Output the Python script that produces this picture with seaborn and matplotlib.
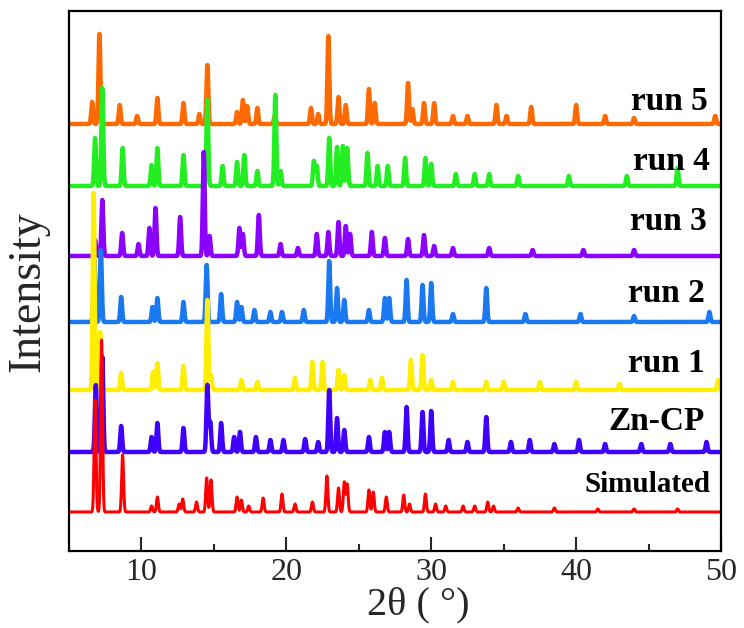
import numpy as np
import pandas as pd
import matplotlib
matplotlib.use("Agg")
import matplotlib.pyplot as plt
import seaborn as sns

# ---------------- data (peak positions in 2theta, heights in arbitrary units) -------------
samples = ["run 5", "run 4", "run 3", "run 2", "run 1", "Zn-CP", "Simulated"]

sim_pos = [6.8, 7.25, 8.7, 10.7, 11.1, 12.6, 12.85, 13.8, 14.5, 14.8, 16.6, 16.9, 17.4, 18.4,
           19.7, 20.6, 21.8, 22.8, 23.6, 24.0, 24.2, 25.7, 26.0, 26.9, 28.1, 28.5, 29.6, 30.3,
           31.0, 32.2, 33.0, 33.9, 34.3, 36.0, 38.5, 41.5, 44.0, 47.0]
sim_h = [112, 172, 57, 6, 15, 8, 13, 10, 34, 32, 15, 12, 6, 14, 18, 8, 10, 36, 24, 30, 28,
         22, 20, 15, 17, 8, 18, 8, 6, 6, 6, 10, 6, 4, 4, 3, 3, 3]

zn_pos = [6.85, 7.3, 8.6, 10.7, 11.1, 12.9, 14.55, 14.75, 15.5, 16.4, 16.8, 17.9, 18.9, 19.8,
          21.3, 22.2, 22.96, 23.5, 24.0, 25.7, 26.8, 27.1, 28.3, 29.4, 30.0, 31.2, 32.5, 33.8,
          35.5, 36.8, 38.5, 40.2, 42.0, 44.5, 46.5, 49.0]
zn_h = [67, 95, 26, 15, 29, 24, 67, 30, 29, 15, 20, 15, 12, 12, 13, 10, 62, 34, 22, 15, 20,
        20, 45, 40, 41, 12, 10, 35, 10, 12, 8, 12, 8, 8, 8, 10]

r1_pos = [6.7, 7.15, 8.6, 10.8, 11.1, 12.9, 14.55, 14.8, 16.9, 18.0, 20.6, 21.8, 22.5, 23.6,
          24.0, 25.8, 26.6, 28.6, 29.4, 30.0, 31.5, 33.8, 35.0, 37.5, 40.0, 43.0, 49.8]
r1_h = [197, 58, 17, 18, 27, 24, 90, 15, 10, 8, 12, 28, 28, 20, 15, 10, 12, 30, 35, 10, 8,
        8, 8, 8, 8, 6, 10]

r2_pos = [6.75, 7.2, 8.6, 10.76, 11.1, 12.9, 14.5, 15.5, 16.6, 16.9, 17.8, 18.9, 19.7, 21.2,
          22.96, 23.5, 24.0, 25.7, 26.8, 27.1, 28.3, 29.4, 30.0, 31.5, 33.8, 36.5, 40.3, 44.0, 49.2]
r2_h = [62, 72, 25, 15, 24, 20, 57, 28, 20, 15, 12, 10, 10, 12, 61, 34, 22, 12, 24, 24, 42,
        37, 39, 8, 34, 8, 8, 6, 10]

r3_pos = [6.8, 7.3, 8.67, 9.8, 10.55, 10.97, 12.67, 14.3, 14.7, 16.76, 17.0, 18.1, 19.6, 20.8,
          22.1, 22.9, 23.6, 24.1, 24.4, 25.9, 26.8, 28.4, 29.5, 30.2, 31.5, 34.0, 37.0, 40.5, 44.0]
r3_h = [16, 56, 23, 12, 28, 48, 39, 104, 20, 28, 22, 41, 12, 8, 22, 24, 34, 30, 22, 24, 18,
        17, 21, 10, 8, 8, 6, 6, 6]

r4_pos = [6.8, 7.3, 8.7, 10.7, 11.1, 12.9, 14.55, 15.6, 16.6, 17.1, 18.0, 19.24, 19.6, 21.9,
          22.1, 22.96, 23.5, 23.9, 24.2, 25.6, 26.3, 27.0, 28.2, 29.6, 30.0, 31.7, 33.0, 34.0,
          36.0, 39.5, 43.5, 47.0]
r4_h = [48, 98, 38, 21, 38, 31, 86, 20, 24, 31, 15, 91, 15, 25, 20, 48, 39, 40, 38, 33, 20,
        20, 28, 28, 22, 12, 12, 12, 10, 10, 10, 18]

r5_pos = [6.6, 7.1, 8.5, 9.7, 11.1, 12.9, 14.0, 14.55, 16.6, 17.0, 17.3, 18.0, 19.2, 21.7,
          22.2, 22.9, 23.6, 24.1, 25.7, 26.1, 28.4, 28.7, 29.5, 30.2, 31.5, 32.5, 34.5, 35.2,
          36.9, 40.0, 42.0, 44.0, 49.6]
r5_h = [22, 90, 19, 8, 26, 21, 10, 59, 12, 24, 18, 16, 8, 16, 10, 88, 27, 19, 35, 21, 41,
        15, 21, 21, 8, 8, 19, 8, 17, 19, 8, 6, 8]

x_ticks = [10, 20, 30, 40, 50]

# ---------------- styles / layout ----------------
peaks = {
    "Simulated": (sim_pos, sim_h),
    "Zn-CP": (zn_pos, zn_h),
    "run 1": (r1_pos, r1_h),
    "run 2": (r2_pos, r2_h),
    "run 3": (r3_pos, r3_h),
    "run 4": (r4_pos, r4_h),
    "run 5": (r5_pos, r5_h),
}
offsets = {"Simulated": 39, "Zn-CP": 99, "run 1": 161, "run 2": 229,
           "run 3": 295, "run 4": 365, "run 5": 427}
colors = {"Simulated": "#ff0000", "Zn-CP": "#3f00ff", "run 1": "#ffee00",
          "run 2": "#1a78f0", "run 3": "#8c00ff", "run 4": "#22ee22", "run 5": "#ff6a00"}

grid = np.arange(5.0, 50.0001, 0.01)
sigma = 0.065
frames = []
for s in samples:
    pos, h = peaks[s]
    y = np.zeros_like(grid)
    for p, hh in zip(pos, h):
        y += hh * np.exp(-0.5 * ((grid - p) / sigma) ** 2)
    frames.append(pd.DataFrame({"2theta": grid, "intensity": y + offsets[s], "sample": s}))
df = pd.concat(frames, ignore_index=True)

sns.set_theme(style="white")
plt.rcParams["font.family"] = ["Liberation Serif", "DejaVu Serif"]

fig = plt.figure(figsize=(7.44, 6.28), dpi=100)
ax = fig.add_axes([69 / 744, 1 - 551 / 628, (721 - 69) / 744, (551 - 11) / 628])

for s in samples:
    lw = 2.2 if s == "Simulated" else 3.2
    sns.lineplot(data=df[df["sample"] == s], x="2theta", y="intensity", color=colors[s],
                 linewidth=lw, estimator=None, sort=False, ax=ax, legend=False)

ax.set_xlim(5, 50)
ax.set_ylim(0, 540)
ax.set_xticks(x_ticks)
ax.set_xticklabels([str(t) for t in x_ticks])
ax.set_xticks([15, 25, 35, 45], minor=True)
ax.set_yticks([])
ax.tick_params(axis="x", which="major", direction="in", length=10, width=1.5,
               labelsize=23, pad=5, bottom=True)
ax.tick_params(axis="x", which="minor", direction="in", length=5, width=1.5, bottom=True)
for sp in ax.spines.values():
    sp.set_visible(True)
    sp.set_color("black")
    sp.set_linewidth(1.6)

ax.set_xlabel("2θ ( °)", fontsize=29)
ax.xaxis.set_label_coords(0.535, -0.066)
ax.set_ylabel("Intensity", fontsize=33)
ax.yaxis.set_label_coords(-0.03, 0.48)

label_pos = {"run 5": (49.1, 450), "run 4": (49.2, 390), "run 3": (49.0, 329),
             "run 2": (48.9, 257), "run 1": (48.9, 187), "Zn-CP": (48.9, 129),
             "Simulated": (49.3, 66)}
for s, (lx, ly) in label_pos.items():
    ax.text(lx, ly, s, ha="right", va="center", fontsize=24 if s != "Simulated" else 21,
            fontweight="bold", color="black")

fig.savefig("out.png", dpi=100)
